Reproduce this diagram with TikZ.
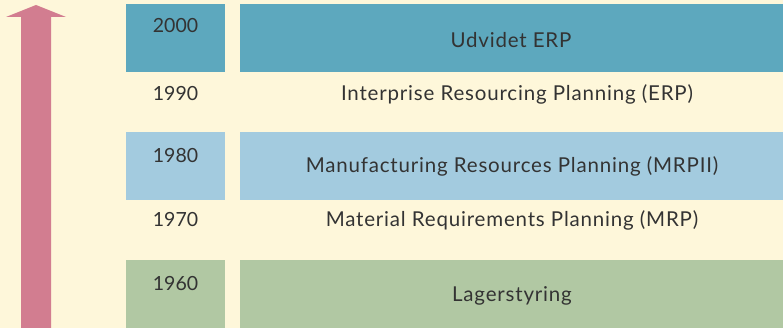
\documentclass[tikz,border=0pt]{standalone}
\usepackage{fontspec}
\setmainfont{Lato}
\newfontfamily\eraface[LetterSpace=4]{Lato}
\usepackage{xcolor}
\definecolor{cream}{HTML}{FEF7DA}
\definecolor{teal}{HTML}{5DA8BE}
\definecolor{lightblue}{HTML}{A3CBDF}
\definecolor{sage}{HTML}{B1C8A3}
\definecolor{rose}{HTML}{D27D90}
\definecolor{ink}{HTML}{333333}
\tikzset{
  yearbox/.style={minimum width=99pt,minimum height=68pt,inner sep=0pt,anchor=north west},
  erabox/.style={minimum width=543pt,minimum height=68pt,inner sep=0pt,anchor=north west},
  label/.style={text=ink,font=\fontsize{19.5}{22}\selectfont,inner sep=0pt},
  eralabel/.style={text=ink,font=\eraface\fontsize{20.5}{24}\selectfont,inner sep=0pt}
}

\begin{document}
\begin{tikzpicture}[x=1pt,y=-1pt]
  \fill[cream] (0,0) rectangle (783,328);
  \useasboundingbox (0,0) rectangle (783,328);
  \fill[rose] (21,328) -- (21,17) -- (6,17) -- (36,5) -- (66,17) -- (51,17) -- (51,328) -- cycle;
  \node[yearbox,fill=teal] (y2000) at (126,4) {};
  \node[erabox,fill=teal] (e2000) at (240,4) {};
  \node[yearbox,fill=lightblue] (y1980) at (126,132) {};
  \node[erabox,fill=lightblue] (e1980) at (240,132) {};
  \node[yearbox,fill=sage] (y1960) at (126,260) {};
  \node[erabox,fill=sage] (e1960) at (240,260) {};
  \node[label] (t2000) at (175.5,26) {2000};
  \node[label] (t1990) at (175.5,94) {1990};
  \node[label] (t1980) at (175.5,156) {1980};
  \node[label] (t1970) at (175.5,220) {1970};
  \node[label] (t1960) at (175.5,284) {1960};
  \node[eralabel] (a2000) at (511,40) {Udvidet ERP};
  \node[eralabel] (a1990) at (517,94) {Interprise Resourcing Planning (ERP)};
  \node[eralabel] (a1980) at (512,166) {Manufacturing Resources Planning (MRPII)};
  \node[eralabel] (a1970) at (512,220) {Material Requirements Planning (MRP)};
  \node[eralabel] (a1960) at (512,296) {Lagerstyring};
\end{tikzpicture}
\end{document}
